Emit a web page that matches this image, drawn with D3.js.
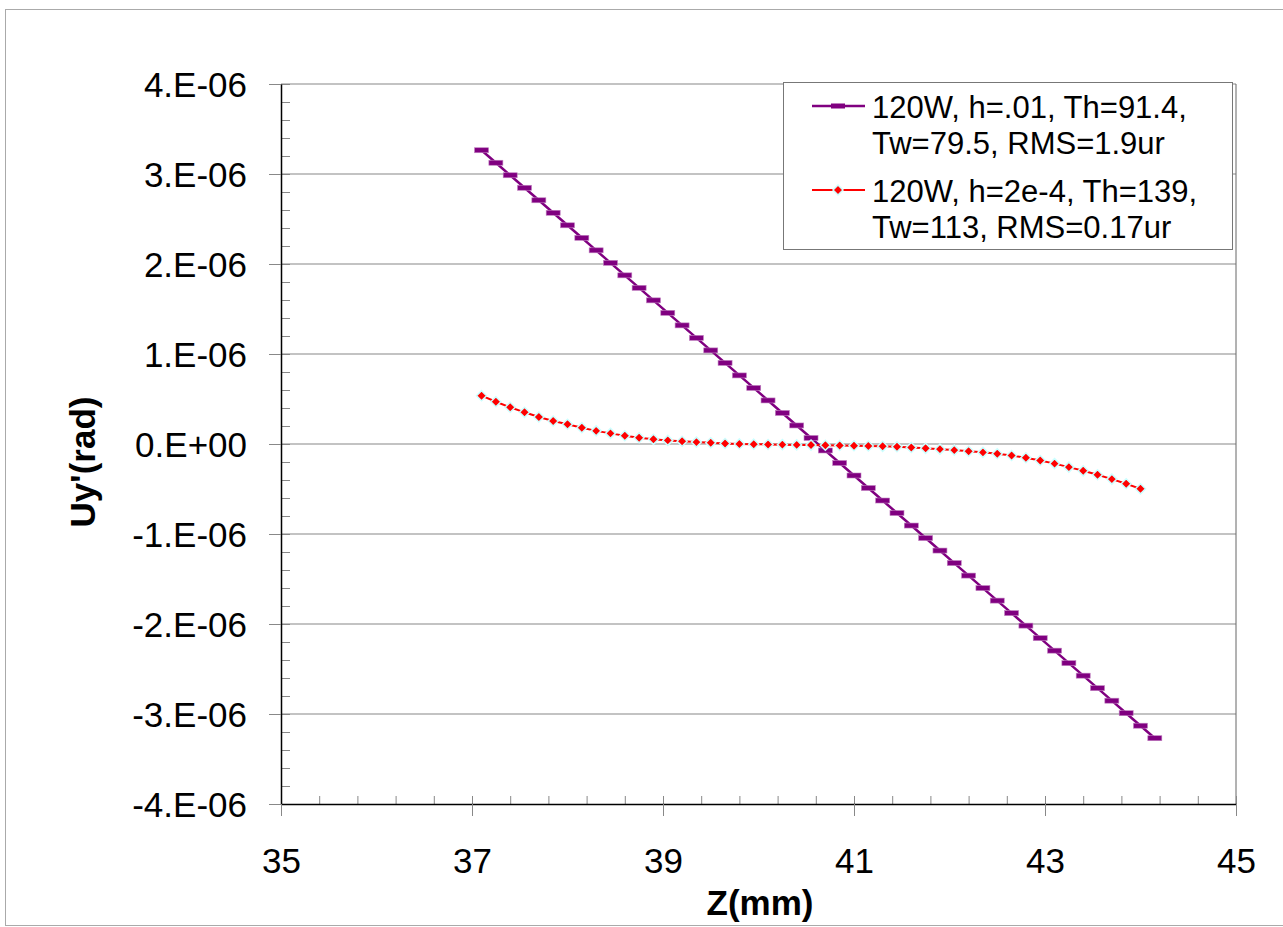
<!DOCTYPE html>
<html>
<head>
<meta charset="utf-8">
<script src="https://cdn.jsdelivr.net/npm/d3@7"></script>
<style>
  body { margin: 0; background: #fff; }
  svg { font-family: "Liberation Sans", Arial, sans-serif; }
</style>
</head>
<body>
<script>
const w = 1283;
const h = 927;

// series 1: 120W, h=.01 (purple)
const zA = [37.10, 37.25, 37.40, 37.55, 37.70, 37.85, 38.00, 38.15, 38.30, 38.45, 38.60, 38.75,
            38.90, 39.05, 39.20, 39.35, 39.50, 39.65, 39.80, 39.95, 40.10, 40.25, 40.40, 40.55,
            40.70, 40.85, 41.00, 41.15, 41.30, 41.45, 41.60, 41.75, 41.90, 42.05, 42.20, 42.35,
            42.50, 42.65, 42.80, 42.95, 43.10, 43.25, 43.40, 43.55, 43.70, 43.85, 44.00, 44.15];
const uyA = [3.264e-6, 3.125e-6, 2.986e-6, 2.847e-6, 2.708e-6, 2.569e-6, 2.430e-6, 2.291e-6,
             2.152e-6, 2.013e-6, 1.874e-6, 1.735e-6, 1.596e-6, 1.457e-6, 1.318e-6, 1.179e-6,
             1.040e-6, 0.901e-6, 0.762e-6, 0.623e-6, 0.484e-6, 0.345e-6, 0.206e-6, 0.067e-6,
             -0.072e-6, -0.211e-6, -0.350e-6, -0.489e-6, -0.628e-6, -0.767e-6, -0.906e-6, -1.045e-6,
             -1.184e-6, -1.323e-6, -1.462e-6, -1.601e-6, -1.740e-6, -1.879e-6, -2.018e-6, -2.157e-6,
             -2.296e-6, -2.435e-6, -2.574e-6, -2.713e-6, -2.852e-6, -2.991e-6, -3.130e-6, -3.269e-6];

// series 2: 120W, h=2e-4 (red)
const zB = [37.10, 37.25, 37.40, 37.55, 37.70, 37.85, 38.00, 38.15, 38.30, 38.45, 38.60, 38.75,
            38.90, 39.05, 39.20, 39.35, 39.50, 39.65, 39.80, 39.95, 40.10, 40.25, 40.40, 40.55,
            40.70, 40.85, 41.00, 41.15, 41.30, 41.45, 41.60, 41.75, 41.90, 42.05, 42.20, 42.35,
            42.50, 42.65, 42.80, 42.95, 43.10, 43.25, 43.40, 43.55, 43.70, 43.85, 44.00];
const uyB = [0.537e-6, 0.470e-6, 0.408e-6, 0.352e-6, 0.300e-6, 0.256e-6, 0.219e-6, 0.180e-6,
             0.146e-6, 0.118e-6, 0.092e-6, 0.070e-6, 0.052e-6, 0.040e-6, 0.030e-6, 0.021e-6,
             0.013e-6, 0.006e-6, 0.001e-6, -0.002e-6, -0.005e-6, -0.007e-6, -0.010e-6, -0.012e-6,
             -0.014e-6, -0.016e-6, -0.019e-6, -0.022e-6, -0.026e-6, -0.031e-6, -0.039e-6, -0.048e-6,
             -0.057e-6, -0.068e-6, -0.080e-6, -0.093e-6, -0.108e-6, -0.128e-6, -0.153e-6, -0.183e-6,
             -0.218e-6, -0.257e-6, -0.298e-6, -0.342e-6, -0.390e-6, -0.442e-6, -0.498e-6];

const xTicks = [35, 37, 39, 41, 43, 45];
const xMinor = [35, 35.4, 35.8, 36.2, 36.6, 37, 37.4, 37.8, 38.2, 38.6, 39, 39.4, 39.8, 40.2, 40.6,
                41, 41.4, 41.8, 42.2, 42.6, 43, 43.4, 43.8, 44.2, 44.6, 45];
const yTicks = [-4e-6, -3e-6, -2e-6, -1e-6, 0, 1e-6, 2e-6, 3e-6, 4e-6];
const yTickLabels = ["-4.E-06", "-3.E-06", "-2.E-06", "-1.E-06", "0.E+00", "1.E-06", "2.E-06", "3.E-06", "4.E-06"];
const yMinor = [-4e-6, -3.8e-6, -3.6e-6, -3.4e-6, -3.2e-6, -3e-6, -2.8e-6, -2.6e-6, -2.4e-6, -2.2e-6,
                -2e-6, -1.8e-6, -1.6e-6, -1.4e-6, -1.2e-6, -1e-6, -0.8e-6, -0.6e-6, -0.4e-6, -0.2e-6,
                0, 0.2e-6, 0.4e-6, 0.6e-6, 0.8e-6, 1e-6, 1.2e-6, 1.4e-6, 1.6e-6, 1.8e-6,
                2e-6, 2.2e-6, 2.4e-6, 2.6e-6, 2.8e-6, 3e-6, 3.2e-6, 3.4e-6, 3.6e-6, 3.8e-6, 4e-6];

const legendLabels = [["120W, h=.01, Th=91.4,", "Tw=79.5, RMS=1.9ur"],
                      ["120W, h=2e-4, Th=139,", "Tw=113, RMS=0.17ur"]];

const plotLeft = 281, plotRight = 1236, plotTop = 84, plotBottom = 804;

let svg = d3.select("body")
    .append("svg")
    .attr("width", w)
    .attr("height", h);

// chart border
svg.append("rect")
   .attr("x", 5.5).attr("y", 9.5)
   .attr("width", 1290).attr("height", 916)
   .attr("fill", "none")
   .attr("stroke", "#aaa");

let xScale = d3.scaleLinear().domain([35, 45]).range([plotLeft, plotRight]);
let yScale = d3.scaleLinear().domain([-4e-6, 4e-6]).range([plotBottom, plotTop]);

// gridlines
svg.append("g")
   .selectAll("line")
   .data(yTicks.filter(d => d !== -4e-6))
   .enter()
   .append("line")
   .attr("x1", plotLeft).attr("x2", plotRight)
   .attr("y1", d => yScale(d)).attr("y2", d => yScale(d))
   .attr("stroke", "#888")
   .attr("stroke-width", 1.2);

// plot area right edge
svg.append("line")
   .attr("x1", plotRight).attr("x2", plotRight)
   .attr("y1", plotTop).attr("y2", plotBottom)
   .attr("stroke", "#666");

// minor ticks (inside)
svg.append("g")
   .attr("transform", "translate(" + plotLeft + ",0)")
   .call(d3.axisRight(yScale).tickValues(yMinor).tickSize(9).tickFormat("").tickSizeOuter(0))
   .call(g => g.select(".domain").remove())
   .selectAll("line").attr("stroke", "#888");

svg.append("g")
   .attr("transform", "translate(0," + plotBottom + ")")
   .call(d3.axisTop(xScale).tickValues(xMinor).tickSize(8).tickFormat("").tickSizeOuter(0))
   .call(g => g.select(".domain").remove())
   .selectAll("line").attr("stroke", "#888");

// y axis
let yAxis = d3.axisLeft(yScale)
    .tickValues(yTicks)
    .tickSize(12)
    .tickSizeOuter(0)
    .tickFormat((d, i) => yTickLabels[i]);
svg.append("g")
   .attr("id", "y-axis")
   .attr("transform", "translate(" + plotLeft + ",0)")
   .call(yAxis)
   .call(g => g.select(".domain").attr("stroke", "#000").attr("stroke-width", 1.5))
   .call(g => g.selectAll(".tick line").attr("stroke", "#888"))
   .selectAll("text")
   .attr("x", -34)
   .attr("dy", "0.36em")
   .attr("font-size", 35)
   .attr("fill", "#000")
   .attr("font-family", "Liberation Sans, Arial, sans-serif");

// x axis
let xAxis = d3.axisBottom(xScale)
    .tickValues(xTicks)
    .tickSize(12)
    .tickSizeOuter(0)
    .tickFormat(d3.format("d"));
svg.append("g")
   .attr("id", "x-axis")
   .attr("transform", "translate(0," + plotBottom + ")")
   .call(xAxis)
   .call(g => g.select(".domain").attr("stroke", "#000").attr("stroke-width", 1.5))
   .call(g => g.selectAll(".tick line").attr("stroke", "#888"))
   .selectAll("text")
   .attr("y", 69)
   .attr("dy", null)
   .attr("font-size", 35)
   .attr("fill", "#000")
   .attr("font-family", "Liberation Sans, Arial, sans-serif");

// axis titles
svg.append("text")
   .attr("x", 760).attr("y", 915)
   .attr("text-anchor", "middle")
   .attr("font-size", 35)
   .attr("font-weight", "bold")
   .text("Z(mm)");

svg.append("text")
   .attr("transform", "translate(95,462) rotate(-90)")
   .attr("text-anchor", "middle")
   .attr("font-size", 35)
   .attr("font-weight", "bold")
   .text("Uy'(rad)");

// series lines
let lineA = d3.line().x((d, i) => xScale(zA[i])).y(d => yScale(d));
let lineB = d3.line().x((d, i) => xScale(zB[i])).y(d => yScale(d));

svg.append("path")
   .datum(uyA)
   .attr("d", lineA)
   .attr("fill", "none")
   .attr("stroke", "#800080")
   .attr("stroke-width", 2.5);

svg.selectAll(".markA")
   .data(uyA)
   .enter()
   .append("rect")
   .attr("class", "markA")
   .attr("x", (d, i) => xScale(zA[i]) - 7)
   .attr("y", d => yScale(d) - 2.5)
   .attr("width", 14)
   .attr("height", 5)
   .attr("fill", "#800080")
   .attr("stroke", "#c080c0")
   .attr("stroke-width", 0.6);

svg.append("path")
   .datum(uyB)
   .attr("d", lineB)
   .attr("fill", "none")
   .attr("stroke", "#ff0000")
   .attr("stroke-width", 2);

// excel-style diamond marker, half diagonal = sqrt(size)/2
const excelDiamond = {
  draw(ctx, size) {
    const r = Math.sqrt(size) / 2;
    ctx.moveTo(0, -r);
    ctx.lineTo(r, 0);
    ctx.lineTo(0, r);
    ctx.lineTo(-r, 0);
    ctx.closePath();
  }
};
let diamond = d3.symbol().type(excelDiamond).size(100);

svg.selectAll(".markB")
   .data(uyB)
   .enter()
   .append("path")
   .attr("class", "markB")
   .attr("d", diamond)
   .attr("transform", (d, i) => "translate(" + xScale(zB[i]) + "," + yScale(d) + ")")
   .attr("fill", "#ff0000")
   .attr("stroke", "#ccffff")
   .attr("stroke-width", 1.5);

// legend
let legend = svg.append("g");
legend.append("rect")
   .attr("x", 783.5).attr("y", 82.5)
   .attr("width", 449).attr("height", 167)
   .attr("fill", "#fff")
   .attr("stroke", "#777");

let legendColors = ["#800080", "#ff0000"];
let legendY = [106, 190];

legendLabels.forEach((lines, k) => {
  legend.append("line")
     .attr("x1", 812).attr("x2", 865)
     .attr("y1", legendY[k]).attr("y2", legendY[k])
     .attr("stroke", legendColors[k])
     .attr("stroke-width", k === 0 ? 2.5 : 2);
  if (k === 0) {
    legend.append("rect")
       .attr("x", 831).attr("y", legendY[k] - 2.5)
       .attr("width", 14).attr("height", 5)
       .attr("fill", "#800080");
  } else {
    legend.append("path")
       .attr("d", diamond)
       .attr("transform", "translate(838," + legendY[k] + ")")
       .attr("fill", "#ff0000")
       .attr("stroke", "#ccffff")
       .attr("stroke-width", 1.5);
  }
  lines.forEach((t, j) => {
    legend.append("text")
       .attr("x", 872)
       .attr("y", legendY[k] + 12 + j * 36)
       .attr("font-size", 31)
       .attr("fill", "#000")
       .text(t);
  });
});
</script>
</body>
</html>
